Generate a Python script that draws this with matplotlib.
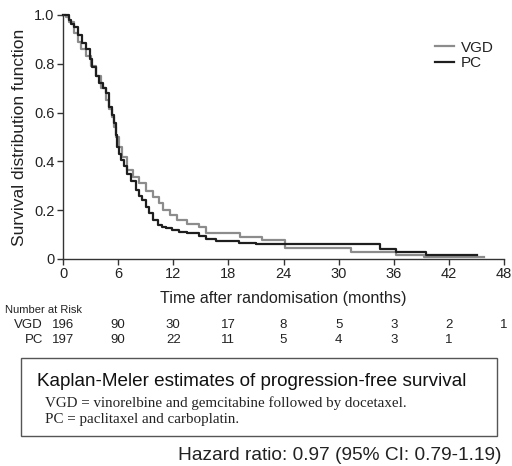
import matplotlib.pyplot as plt
import matplotlib.transforms as mtransforms
from matplotlib import font_manager

# Kaplan-Meier progression-free survival
pc_time = [0, 0.6, 0.9, 1.2, 1.6, 2.1, 2.5, 2.9, 3.2, 3.6, 3.9, 4.3, 4.65, 5.0, 5.3,
           5.56, 5.75, 5.9, 6.1, 6.3, 6.6, 7.0, 7.4, 7.9, 8.3, 8.6, 9.0, 9.35, 9.8, 10.3,
           10.8, 11.2, 11.9, 12.6, 13.5, 14.8, 15.6, 16.6, 19.2, 21.0, 34.5, 36.2, 39.5, 45.1]
pc_surv = [1.0, 0.98, 0.965, 0.95, 0.92, 0.884, 0.86, 0.82, 0.788, 0.75, 0.72, 0.70, 0.68, 0.624, 0.59,
           0.556, 0.51, 0.46, 0.43, 0.405, 0.38, 0.35, 0.32, 0.283, 0.26, 0.242, 0.215, 0.188, 0.16, 0.139,
           0.13, 0.126, 0.118, 0.112, 0.105, 0.095, 0.082, 0.072, 0.066, 0.06, 0.04, 0.027, 0.016, 0.016]

vgd_time = [0, 0.3, 0.65, 1.2, 1.6, 2.0, 2.5, 3.0, 3.6, 4.1, 4.7, 5.0, 5.3, 5.55, 5.8,
            6.1, 6.4, 7.0, 7.6, 8.3, 9.0, 9.8, 10.4, 10.9, 11.6, 12.4, 13.5, 14.8, 15.6, 19.3,
            21.7, 24.2, 31.4, 36.2, 39.3, 45.8]
vgd_surv = [1.0, 0.99, 0.97, 0.925, 0.89, 0.86, 0.83, 0.79, 0.75, 0.70, 0.65, 0.615, 0.58, 0.54, 0.50,
            0.46, 0.42, 0.365, 0.335, 0.31, 0.28, 0.255, 0.228, 0.2, 0.18, 0.16, 0.143, 0.13, 0.107, 0.09,
            0.078, 0.044, 0.027, 0.016, 0.01, 0.01]

risk_months = [0, 6, 12, 18, 24, 30, 36, 42, 48]
risk_vgd = ['196', '90', '30', '17', '8', '5', '3', '2', '1']
risk_pc = ['197', '90', '22', '11', '5', '4', '3', '1', '']

xticks = [0, 6, 12, 18, 24, 30, 36, 42, 48]
yticks = [0, 0.2, 0.4, 0.6, 0.8, 1.0]
ytick_labels = ['0', '0.2', '0.4', '0.6', '0.8', '1.0']

names = {f.name for f in font_manager.fontManager.ttflist}
narrow = 'Liberation Sans Narrow' if 'Liberation Sans Narrow' in names else 'Liberation Sans'
sans = 'Liberation Sans'
serif = 'Liberation Serif'
plt.rcParams['font.family'] = [sans, 'DejaVu Sans']

fig = plt.figure(figsize=(5.12, 4.66), dpi=100)
ax = fig.add_axes([63/512, 1-259/466, (504-63)/512, (259-15)/466])

ax.step(vgd_time, vgd_surv, where='post', color='#8c8c8c', lw=1.6, label='VGD', clip_on=False)
ax.step(pc_time, pc_surv, where='post', color='#1e1e1e', lw=1.6, label='PC', clip_on=False)

ax.set_xlim(0, 48)
ax.set_ylim(0, 1.0)
ax.spines['top'].set_visible(False)
ax.spines['right'].set_visible(False)
for s in ['left', 'bottom']:
    ax.spines[s].set_color('#333333')
    ax.spines[s].set_linewidth(1.0)
ax.set_xticks(xticks)
ax.set_yticks(yticks)
ax.set_yticklabels(ytick_labels)
ax.tick_params(direction='out', length=4, width=1, colors='#333333', labelsize=10.5, pad=2)
for lab in ax.get_xticklabels() + ax.get_yticklabels():
    lab.set_family(narrow)
    lab.set_color('#222222')

ax.set_xlabel('Time after randomisation (months)', fontsize=11.6, color='#222222', labelpad=7)
ax.set_ylabel('Survival distribution function', fontsize=12.5, color='#222222', labelpad=5)

leg = ax.legend(loc='upper right', bbox_to_anchor=(0.99, 0.92), frameon=False, fontsize=11,
                handlelength=1.3, handletextpad=0.4, labelspacing=0.1, borderaxespad=0)
for t in leg.get_texts():
    t.set_color('#222222')

# number at risk table
trans = mtransforms.blended_transform_factory(ax.transData, fig.transFigure)
fig.text(5/512, 1-310/466, 'Number at Risk', fontsize=8, family=narrow, color='#222222', va='center')
fig.text(43/512, 1-325/466, 'VGD', fontsize=9.5, family=narrow, color='#222222', va='center', ha='right')
fig.text(43/512, 1-340/466, 'PC', fontsize=9.5, family=narrow, color='#222222', va='center', ha='right')
for m, a, b in zip(risk_months, risk_vgd, risk_pc):
    ax.text(m, 1-325/466, a, transform=trans, fontsize=9.5, family=narrow, color='#222222',
            ha='center', va='center', clip_on=False)
    ax.text(m, 1-340/466, b, transform=trans, fontsize=9.5, family=narrow, color='#222222',
            ha='center', va='center', clip_on=False)

# legend box
box = plt.Rectangle((21/512, 1-436/466), (497-21)/512, (436-358)/466, transform=fig.transFigure,
                    fill=False, edgecolor='#555555', lw=1.0)
fig.add_artist(box)
fig.text(252/512, 1-382/466, 'Kaplan-Meler estimates of progression-free survival', fontsize=13.6,
         color='#111111', ha='center', va='center')
fig.text(45/512, 1-403/466, 'VGD = vinorelbine and gemcitabine followed by docetaxel.', fontsize=10.8,
         family=serif, color='#222222', va='center')
fig.text(45/512, 1-419/466, 'PC = paclitaxel and carboplatin.', fontsize=10.8,
         family=serif, color='#222222', va='center')

fig.text(502/512, 1-456/466, 'Hazard ratio: 0.97 (95% CI: 0.79-1.19)', fontsize=13.8,
         color='#222222', ha='right', va='center')

fig.savefig('out.png', dpi=100)
